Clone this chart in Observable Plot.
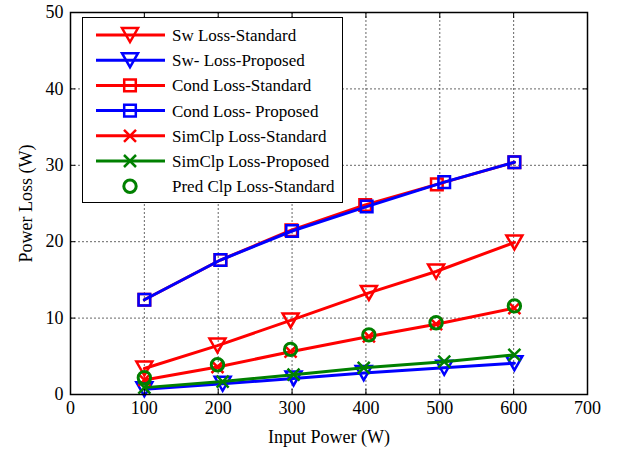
<!DOCTYPE html>
<html><head><meta charset="utf-8">
<script src="https://cdn.jsdelivr.net/npm/d3@7"></script>
<script src="https://cdn.jsdelivr.net/npm/@observablehq/plot@0.6"></script>
<style>
html,body{margin:0;padding:0;background:#fff;}
#chart svg{display:block;}
</style></head>
<body><div id="chart"></div>
<script>
// ---- data ----
const xTicks = [0, 100, 200, 300, 400, 500, 600, 700];
const yTicks = [0, 10, 20, 30, 40, 50];
const xStd  = [100, 199, 298, 404, 495, 601];
const xProp = [100, 206, 302, 397, 506, 601];
const xCondStd  = [100, 203, 299, 399, 496, 601];
const xCondProp = [100, 203, 300, 401, 506, 601];
const swStd    = [3.4, 6.4, 9.7, 13.3, 16.1, 19.9];
const swProp   = [0.7, 1.4, 2.1, 2.8, 3.5, 4.1];
const condStd  = [12.4, 17.6, 21.5, 24.8, 27.5, 30.4];
const condProp = [12.4, 17.6, 21.4, 24.6, 27.8, 30.4];
const simStd   = [1.9, 3.6, 5.6, 7.6, 9.2, 11.3];
const simProp  = [0.9, 1.7, 2.6, 3.5, 4.3, 5.2];
const predStd  = [2.2, 3.9, 5.9, 7.8, 9.4, 11.6];
const seriesNames = ["Sw Loss-Standard", "Sw- Loss-Proposed", "Cond Loss-Standard", "Cond Loss- Proposed",
  "SimClp Loss-Standard", "SimClp Loss-Proposed", "Pred Clp Loss-Standard"];

// ---- symbols ----
const triDown = {draw(c){ c.moveTo(-8,-7); c.lineTo(8,-7); c.lineTo(0,7); c.closePath(); }};
const square  = {draw(c){ c.moveTo(-5.8,-5.8); c.lineTo(5.8,-5.8); c.lineTo(5.8,5.8); c.lineTo(-5.8,5.8); c.closePath(); }};
const cross   = {draw(c){ c.moveTo(-6,-6); c.lineTo(6,6); c.moveTo(6,-6); c.lineTo(-6,6); }};
const circ    = {draw(c){ c.moveTo(6.2,0); c.arc(0,0,6.2,0,2*Math.PI); c.closePath(); }};

const RED = "#ff0000", BLUE = "#0000ff", GREEN = "#008000";
const series = [
  {name: seriesNames[0], xs: xStd, ys: swStd, color: RED, sym: triDown, line: true},
  {name: seriesNames[1], xs: xProp, ys: swProp, color: BLUE, sym: triDown, line: true},
  {name: seriesNames[2], xs: xCondStd, ys: condStd, color: RED, sym: square, line: true},
  {name: seriesNames[3], xs: xCondProp, ys: condProp, color: BLUE, sym: square, line: true},
  {name: seriesNames[4], xs: xStd, ys: simStd, color: RED, sym: cross, line: true},
  {name: seriesNames[5], xs: xProp, ys: simProp, color: GREEN, sym: cross, line: true},
  {name: seriesNames[6], xs: xStd, ys: predStd, color: GREEN, sym: circ, line: false}
];

const marks = [
  Plot.gridX(xTicks.slice(1, -1), {stroke: "#333", strokeOpacity: 0.75, strokeDasharray: "2,2"}),
  Plot.gridY(yTicks.slice(1, -1), {stroke: "#333", strokeOpacity: 0.75, strokeDasharray: "2,2"}),
];
for (const s of series) {
  const data = s.xs.map((x, i) => ({x, y: s.ys[i]}));
  if (s.line) marks.push(Plot.line(data, {x: "x", y: "y", stroke: s.color, strokeWidth: 3}));
  marks.push(Plot.dot(data, {x: "x", y: "y", symbol: s.sym, r: 6, stroke: s.color, fill: "none",
    strokeWidth: s.sym === circ ? 3 : 2.5}));
}
marks.push(
  Plot.axisX(xTicks, {tickSize: 0, tickPadding: 7, fontSize: 18, label: "Input Power (W)",
    labelAnchor: "center", labelOffset: 48, labelArrow: "none"}),
  Plot.axisX(xTicks, {tickSize: -5, tickFormat: () => "", label: null}),
  Plot.axisX(xTicks, {anchor: "top", tickSize: -5, tickFormat: () => "", label: null}),
  Plot.axisY(yTicks, {tickSize: 0, tickPadding: 7, fontSize: 18, label: "Power Loss (W)",
    labelAnchor: "center", labelOffset: 51, labelArrow: "none"}),
  Plot.axisY(yTicks, {tickSize: -5, tickFormat: () => "", label: null}),
  Plot.axisY(yTicks, {anchor: "right", tickSize: -5, tickFormat: () => "", label: null}),
  Plot.frame({stroke: "black", strokeWidth: 1.5})
);

const chart = Plot.plot({
  width: 620, height: 449,
  marginLeft: 70, marginRight: 33, marginTop: 12, marginBottom: 55,
  style: {fontFamily: "'Liberation Serif', 'Times New Roman', serif", fontSize: "18px", color: "black", background: "white"},
  x: {domain: [0, 700]},
  y: {domain: [0, 50]},
  marks
});
document.getElementById("chart").appendChild(chart);

// ---- legend (inside the plot, upper left) ----
const svg = d3.select(chart);
const lg = svg.append("g").attr("font-family", "'Liberation Serif', 'Times New Roman', serif")
  .attr("font-size", 17).attr("text-anchor", "start");
lg.append("rect").attr("x", 82.5).attr("y", 17.5).attr("width", 260).attr("height", 185)
  .attr("fill", "white").attr("stroke", "black").attr("stroke-width", 1);
series.forEach((s, i) => {
  const y = 35 + i * 25.2;
  if (s.line) lg.append("line").attr("x1", 96).attr("x2", 165).attr("y1", y).attr("y2", y)
    .attr("stroke", s.color).attr("stroke-width", 3);
  lg.append("path").attr("transform", `translate(130,${y})`).attr("d", d3.symbol().type(s.sym).size(100)())
    .attr("fill", "none").attr("stroke", s.color).attr("stroke-width", s.sym === circ ? 3 : 2.5);
  lg.append("text").attr("x", 172).attr("y", y).attr("dy", "0.35em").attr("fill", "black").text(s.name);
});
</script>
</body></html>
